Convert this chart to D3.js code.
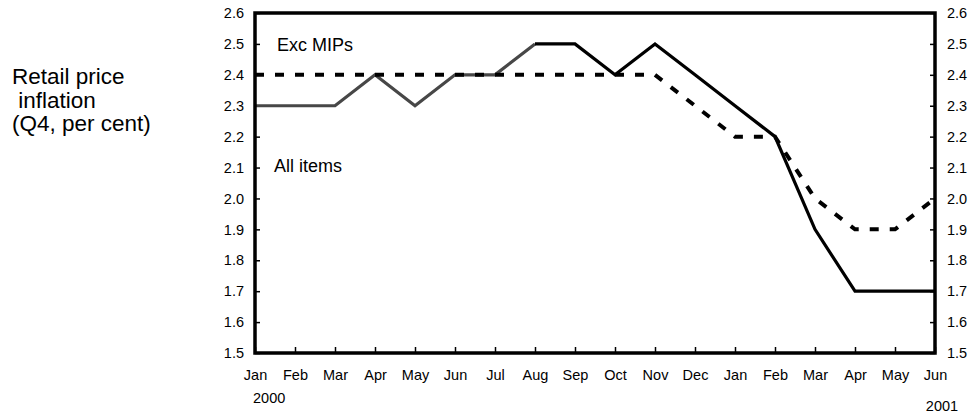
<!DOCTYPE html>
<html>
<head>
<meta charset="utf-8">
<script src="https://cdn.jsdelivr.net/npm/d3@7"></script>
<style>
  html, body { margin: 0; padding: 0; background: #fff; }
  svg { display: block; font-family: "Liberation Sans", Arial, sans-serif; }
</style>
</head>
<body>
<svg id="chart" width="975" height="414"></svg>
<script>
// ---- data ----
const months = ["Jan","Feb","Mar","Apr","May","Jun","Jul","Aug","Sep","Oct","Nov","Dec",
                "Jan","Feb","Mar","Apr","May","Jun"];
const excMIPs  = [2.3,2.3,2.3,2.4,2.3,2.4,2.4,2.5,2.5,2.4,2.5,2.4,2.3,2.2,1.9,1.7,1.7,1.7];
const allItems = [2.4,2.4,2.4,2.4,2.4,2.4,2.4,2.4,2.4,2.4,2.4,2.3,2.2,2.2,2.0,1.9,1.9,2.0];
const greyEnd = 7; // Exc MIPs drawn grey from Jan 2000 up to Aug 2000
const yTicks = [1.5,1.6,1.7,1.8,1.9,2.0,2.1,2.2,2.3,2.4,2.5,2.6];
const yearLabels = ["2000","2001"];
const titleLines = ["Retail price"," inflation","(Q4, per cent)"];
const seriesLabels = ["Exc MIPs","All items"];

(function () {
// ---- layout ----
const svg = d3.select("#chart");
const pl = 255, pr = 935, pt = 13, pb = 353;
const x = d3.scalePoint().domain(d3.range(months.length)).range([pl, pr]);
const y = d3.scaleLinear().domain([1.5, 2.6]).range([pb, pt]);

// title
const title = svg.append("text")
  .attr("x", 12).attr("y", 84)
  .attr("font-size", 22.5).attr("fill", "#000")
  .style("white-space", "pre");
titleLines.forEach((t, i) => {
  title.append("tspan").attr("x", 12).attr("dy", i === 0 ? 0 : 23.5).text(t);
});

// axes (ticks inward)
const yLeft = d3.axisLeft(y).tickValues(yTicks).tickSize(-5).tickPadding(11)
  .tickFormat(d3.format(".1f"));
const yRight = d3.axisRight(y).tickValues(yTicks).tickSize(-5).tickPadding(12)
  .tickFormat(d3.format(".1f"));
const xAxis = d3.axisBottom(x).tickSize(-6).tickPadding(17)
  .tickFormat(i => months[i]);

function styleAxis(g) {
  g.select(".domain").remove();
  g.selectAll(".tick line").attr("stroke", "#000").attr("stroke-width", 1.5);
  g.selectAll(".tick text").attr("fill", "#000").attr("font-size", 14.5)
    .attr("font-family", "Liberation Sans, Arial, sans-serif");
}
svg.append("g").attr("transform", `translate(${pl},0)`).call(yLeft).call(styleAxis);
svg.append("g").attr("transform", `translate(${pr},0)`).call(yRight).call(styleAxis);
const gx = svg.append("g").attr("transform", `translate(0,${pb})`).call(xAxis).call(styleAxis);
gx.selectAll(".tick text").attr("dy", "0.71em");

// year labels
svg.append("text").attr("x", x(0) - 2).attr("y", 403).attr("font-size", 14.5)
  .text(yearLabels[0]);
svg.append("text").attr("x", x(months.length - 1) + 7).attr("y", 411).attr("font-size", 14.5)
  .attr("text-anchor", "middle").text(yearLabels[1]);

// lines
const line = d3.line().x(d => x(d.i)).y(d => y(d.v));
const exc = excMIPs.map((v, i) => ({i, v}));
const all = allItems.map((v, i) => ({i, v}));

svg.append("path").datum(exc.slice(0, greyEnd + 1))
  .attr("d", line).attr("fill", "none").attr("stroke", "#474747").attr("stroke-width", 3.2);
svg.append("path").datum(all)
  .attr("d", line).attr("fill", "none").attr("stroke", "#000").attr("stroke-width", 4)
  .attr("stroke-dasharray", "9,11");
svg.append("path").datum(exc.slice(greyEnd))
  .attr("d", line).attr("fill", "none").attr("stroke", "#000").attr("stroke-width", 3.2)
  .attr("stroke-linejoin", "miter");

// frame
svg.append("rect").attr("x", pl).attr("y", pt)
  .attr("width", pr - pl).attr("height", pb - pt)
  .attr("fill", "none").attr("stroke", "#000").attr("stroke-width", 3.5);

// series labels
svg.append("text").attr("x", 277).attr("y", 51).attr("font-size", 18).text(seriesLabels[0]);
svg.append("text").attr("x", 274).attr("y", 172).attr("font-size", 18).text(seriesLabels[1]);
})();
</script>
</body>
</html>
